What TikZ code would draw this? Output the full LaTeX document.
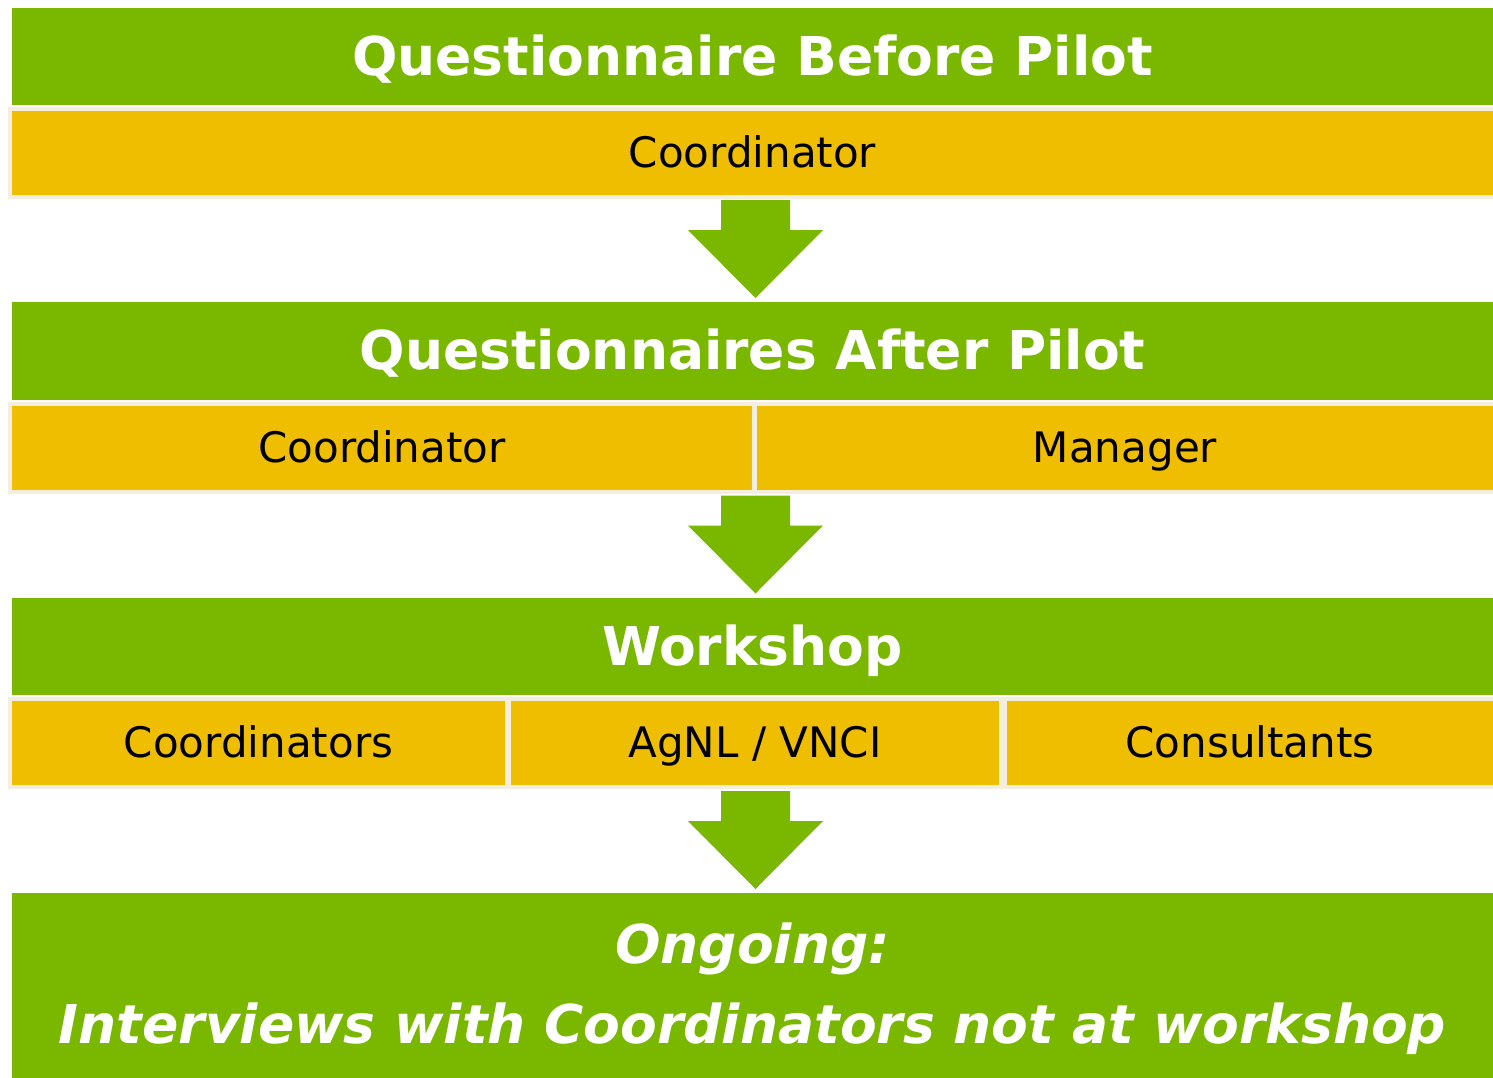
\documentclass[tikz,border=0pt]{standalone}
\usepackage{fontspec}
\setmainfont{DejaVu Sans}
\usepackage{tikz}

\definecolor{barGreen}{RGB}{122,184,0}
\definecolor{cellYellow}{RGB}{240,190,0}
\definecolor{cellEdge}{RGB}{243,238,222}

\tikzset{
  bar/.style={rectangle, fill=barGreen, inner sep=0pt, text=white,
    text height=39pt, text depth=2pt,
    font=\fontsize{53.5}{64}\selectfont\bfseries},
  cell/.style={rectangle, fill=cellYellow, draw=cellEdge, line width=4pt,
    inner sep=0pt, minimum height=88pt, text=black,
    text height=31pt, text depth=2pt,
    font=\fontsize{42}{50}\selectfont},
  flow/.style={fill=barGreen}
}

\begin{document}
\begin{tikzpicture}[x=1pt, y=-1pt]
        \useasboundingbox[fill=white] (0, 0) rectangle (1493, 1077);
        % stage bars
        \node (q1) at (752.5, 56.5) [bar, minimum width=1481pt, minimum height=97pt] {Questionnaire Before Pilot};
        \node (q2) at (752.5, 351) [bar, minimum width=1481pt, minimum height=98pt] {Questionnaires After Pilot};
        \node (ws) at (752.5, 646.5) [bar, minimum width=1481pt, minimum height=97pt] {Workshop};
        \node (og) at (752.5, 989) [bar, minimum width=1481pt, minimum height=192pt, align=center,
            text height=, text depth=,
            font=\fontsize{53.5}{80}\selectfont\bfseries\itshape] {Ongoing:\\Interviews with Coordinators not at workshop};
        % participants
        \node (c1) at (752.5, 153) [cell, minimum width=1485pt] {Coordinator};
        \node (c2) at (382, 448) [cell, minimum width=744pt] {Coordinator};
        \node (m2) at (1125, 448) [cell, minimum width=740pt] {Manager};
        \node (c3) at (258.5, 743) [cell, minimum width=497pt] {Coordinators};
        \node (a3) at (755, 743) [cell, minimum width=492pt] {AgNL / VNCI};
        \node (k3) at (1250, 743) [cell, minimum width=490pt] {Consultants};
        % arrows between stages
        \foreach \t in {200, 495.5, 791}
            \fill[flow] (721, \t) -- (790, \t) -- (790, \t+30) -- (823, \t+30)
                -- (755.5, \t+98) -- (688, \t+30) -- (721, \t+30) -- cycle;
    \end{tikzpicture}
\end{document}
